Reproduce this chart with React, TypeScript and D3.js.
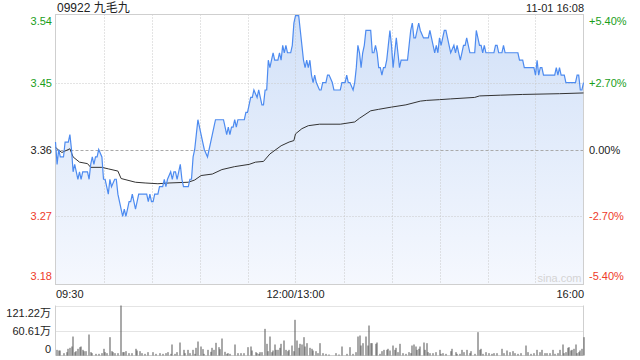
import React from "react";
import * as d3 from "d3";

const TITLE = "09922 九毛九";
const STAMP = "11-01 16:08";
const PREV_CLOSE = 3.36;
const PCT_RANGE = 0.054;
const PRICE_TICKS = [3.54, 3.45, 3.36, 3.27, 3.18];
const PCT_LABELS = ["+5.40%", "+2.70%", "0.00%", "-2.70%", "-5.40%"];
const TIME_LABELS = ["09:30", "12:00/13:00", "16:00"];
const TIME_LABEL_MIN = [0, 150, 330];
const TOTAL_MIN = 330;
const VOL_MAX = 121.22;
const VOL_LABELS = ["121.22万", "60.61万", "0"];
const VOL_TICKS = [121.22, 60.61, 0];

// minute offsets and prices
const priceMin = [0,1,2,3,5,6,8,9,10,11,12,13,14,15,16,17,20,21,22,23,24,25,26,27,29,30,31,32,33,34,35,37,38,39,40,41,42,43,44,45,46,47,48,49,50,51,52,57,58,59,60,61,62,64,65,67,68,69,70,72,73,74,75,76,77,78,79,80,83,84,85,86,87,88,89,90,91,92,93,95,96,97,98,99,100,105,106,107,108,109,110,111,112,113,114,118,119,120,121,122,123,124,126,127,128,129,130,131,132,133,134,135,136,137,139,140,141,142,143,144,145,147,148,149,150,152,153,154,155,156,157,158,159,160,161,162,163,165,166,167,169,170,171,173,174,178,179,181,182,183,184,186,187,188,189,190,191,192,193,194,197,198,199,200,201,202,203,204,205,206,207,208,209,210,211,212,213,214,215,216,220,221,222,223,224,225,226,227,228,230,233,234,235,236,237,238,239,240,241,242,243,244,245,246,247,249,250,251,252,253,254,255,256,257,258,259,262,263,264,265,266,267,268,269,274,275,276,277,279,280,281,289,290,292,293,299,300,301,302,303,304,305,312,313,314,315,316,318,319,325,326,327,328,329,330];
const priceVal = [3.37,3.34,3.36,3.35,3.35,3.37,3.37,3.38,3.36,3.33,3.34,3.33,3.32,3.33,3.32,3.33,3.33,3.32,3.34,3.35,3.34,3.35,3.35,3.36,3.35,3.32,3.32,3.31,3.30,3.32,3.31,3.32,3.32,3.30,3.29,3.28,3.27,3.28,3.27,3.28,3.29,3.29,3.30,3.29,3.28,3.29,3.30,3.30,3.29,3.30,3.29,3.29,3.30,3.30,3.31,3.31,3.32,3.31,3.32,3.33,3.32,3.33,3.33,3.32,3.33,3.34,3.32,3.31,3.31,3.32,3.32,3.35,3.36,3.38,3.40,3.39,3.38,3.37,3.36,3.35,3.36,3.37,3.38,3.39,3.40,3.40,3.39,3.38,3.39,3.38,3.39,3.39,3.40,3.39,3.40,3.40,3.41,3.41,3.42,3.43,3.43,3.44,3.43,3.44,3.43,3.42,3.42,3.44,3.44,3.48,3.47,3.48,3.49,3.48,3.48,3.49,3.48,3.50,3.49,3.50,3.49,3.49,3.50,3.53,3.54,3.54,3.52,3.50,3.48,3.47,3.48,3.47,3.48,3.46,3.45,3.46,3.45,3.44,3.44,3.45,3.45,3.46,3.46,3.45,3.44,3.44,3.45,3.45,3.46,3.45,3.45,3.44,3.45,3.47,3.50,3.49,3.47,3.49,3.50,3.52,3.52,3.49,3.49,3.50,3.49,3.47,3.47,3.46,3.47,3.47,3.48,3.50,3.52,3.50,3.47,3.49,3.51,3.49,3.47,3.48,3.48,3.50,3.52,3.53,3.51,3.51,3.52,3.53,3.52,3.51,3.51,3.52,3.51,3.50,3.49,3.50,3.49,3.51,3.50,3.51,3.52,3.52,3.51,3.50,3.49,3.50,3.49,3.50,3.49,3.48,3.49,3.50,3.50,3.51,3.50,3.49,3.49,3.52,3.51,3.50,3.50,3.49,3.50,3.49,3.49,3.50,3.50,3.49,3.49,3.50,3.49,3.49,3.48,3.48,3.47,3.47,3.46,3.48,3.46,3.47,3.47,3.46,3.46,3.47,3.46,3.47,3.46,3.46,3.45,3.45,3.46,3.46,3.44,3.44,3.45];

const avgMin = [0,2,4,9,11,15,20,22,29,33,39,41,50,56,64,71,83,87,91,98,104,112,121,125,130,134,141,146,149,150,154,158,165,178,187,190,197,202,210,219,228,232,240,247,262,265,278,292,315,330];
const avgVal = [3.363,3.359,3.356,3.361,3.350,3.343,3.341,3.336,3.336,3.334,3.331,3.321,3.316,3.315,3.314,3.315,3.316,3.319,3.325,3.327,3.333,3.337,3.340,3.343,3.344,3.354,3.365,3.370,3.372,3.381,3.388,3.392,3.394,3.394,3.397,3.402,3.412,3.414,3.417,3.420,3.425,3.426,3.427,3.428,3.430,3.432,3.433,3.434,3.435,3.436];

const volMin = [1,2,3,5,7,8,9,10,11,12,13,14,15,16,17,18,19,21,22,23,25,27,29,30,31,32,34,35,36,37,39,41,42,43,44,46,48,50,51,53,54,56,58,61,63,65,67,69,70,72,73,75,76,78,80,81,83,84,86,87,88,89,91,92,93,95,97,98,99,100,102,103,104,106,107,108,109,112,114,116,118,120,122,123,125,126,127,128,129,131,132,133,134,135,136,137,138,139,140,141,143,144,145,146,148,149,150,151,152,153,154,155,156,157,159,160,161,163,164,165,167,169,171,175,177,179,182,184,186,188,189,190,191,192,194,195,196,197,198,200,201,203,204,205,207,208,209,211,212,213,214,215,217,219,221,222,223,224,225,226,227,228,230,231,232,233,234,236,238,240,241,242,244,247,248,250,251,253,254,255,257,259,260,262,264,265,266,267,269,271,273,274,276,279,280,282,284,286,287,289,291,294,295,297,299,301,303,304,306,307,309,311,312,314,315,317,318,319,320,321,322,323,324,325,326,327,328,329,330];
const volVal = [13.7,12.1,12.1,5.7,8.1,16.2,18.6,21.8,46,8.1,10.5,16.2,20.2,21.8,13.7,10.5,10.5,50.9,8.1,5.7,4.0,4.0,5.7,16.2,8.1,5.7,44.4,10.5,8.1,5.7,5.7,121.2,8.1,8.1,10.5,5.7,5.7,16.2,12.1,10.5,5.7,4.0,8.1,8.1,4.0,5.7,4.0,5.7,8.1,4.0,26.7,4.0,8.1,31.5,13.7,5.7,13.7,5.7,13.7,4.0,18.6,33.9,21.8,15.4,4.0,13.7,8.9,18.6,13.7,30.7,20.2,15.4,41.2,8.9,4.0,5.7,4.0,26.7,5.7,5.7,5.7,20.2,21.8,12.1,8.1,5.7,4.0,8.1,8.1,64.6,28.3,10.5,46,8.1,12.1,26.7,13.7,13.7,18.6,28.3,36.4,13.7,10.5,13.7,24.2,10.5,86.5,36.4,18.6,28.3,26.7,44.4,21.8,29.9,18.6,16.2,12.1,10.5,5.7,29.9,5.7,4.0,2.4,5.7,2.4,21.8,4.0,20.2,4.0,8.1,46,48.5,24.2,29.9,46,24.2,72.7,29.9,29.9,28.3,31.5,4.0,10.5,13.7,13.7,16.2,12.1,24.2,13.7,18.6,8.1,28.3,5.7,4.0,8.1,5.7,24.2,26.7,21.8,13.7,16.2,21.8,31.5,13.7,29.9,8.1,5.7,5.7,8.1,13.7,4.0,5.7,4.0,10.5,16.2,8.1,4.0,4.0,13.7,8.1,13.7,5.7,10.5,4.0,56.6,13.7,16.2,4.0,8.1,5.7,4.0,5.7,5.7,16.2,5.7,12.1,8.1,10.5,5.7,4.0,5.7,24.2,8.1,4.0,5.7,13.7,8.1,13.7,5.7,5.7,5.7,13.7,4.0,5.7,13.7,26.7,5.7,8.1,18.6,20.2,12.1,13.7,16.2,26.7,5.7,8.1,12.1,16.2,44.4];

const W = 640;
const H = 360;
const X0 = 55.5;
const X1 = 583.5;
const PT = 14.5;
const PB = 284.5;
const VT = 305.5;
const VB = 355.5;

const GREEN = "#1a9e1a";
const RED = "#ee3b2a";
const DARK = "#222";
const FONT = "'Liberation Sans', Arial, 'Noto Sans CJK SC', sans-serif";

export default function App() {
  const x = d3.scaleLinear().domain([0, TOTAL_MIN]).range([X0, X1]);
  const lo = PREV_CLOSE * (1 - PCT_RANGE);
  const hi = PREV_CLOSE * (1 + PCT_RANGE);
  const y = d3.scaleLinear().domain([lo, hi]).range([PB, PT]);
  const yv = d3.scaleLinear().domain([0, VOL_MAX]).range([VB, VT]);

  const pts = priceMin.map((m, i) => [m, priceVal[i]] as [number, number]);
  const avg = avgMin.map((m, i) => [m, avgVal[i]] as [number, number]);

  const line = d3.line<[number, number]>().x((d) => x(d[0])).y((d) => y(d[1]));
  const area = d3
    .area<[number, number]>()
    .x((d) => x(d[0]))
    .y0(PB)
    .y1((d) => y(d[1]));

  const vGrid = d3.range(1, 11).map((i) => i * 30);
  const colorFor = (i: number) => (i < 2 ? GREEN : i === 2 ? DARK : RED);

  return (
    <svg
      width={W}
      height={H}
      style={{ position: "fixed", left: 0, top: 0, background: "#fff" }}
      fontFamily={FONT}
    >
      <defs>
        <linearGradient id="fillg" x1="0" y1="0" x2="0" y2="1">
          <stop offset="0%" stopColor="#d2e1f8" />
          <stop offset="100%" stopColor="#f5f8fe" />
        </linearGradient>
      </defs>

      <text x={57} y={12} fontSize={12} fill={DARK}>
        {TITLE}
      </text>
      <text x={X1 + 0.5} y={12} fontSize={11} fill={DARK} textAnchor="end">
        {STAMP}
      </text>

      {/* area */}
      <path d={area(pts) || ""} fill="url(#fillg)" />

      {/* grid */}
      {vGrid.map((m) => (
        <line
          key={"vg" + m}
          x1={Math.round(x(m)) + 0.5}
          x2={Math.round(x(m)) + 0.5}
          y1={PT}
          y2={PB}
          stroke="#c8c8c8"
          strokeDasharray="1,2"
        />
      ))}
      {PRICE_TICKS.slice(1, 4).map((p, i) => (
        <line
          key={"hg" + p}
          x1={X0}
          x2={X1}
          y1={Math.round(y(p)) + 0.5}
          y2={Math.round(y(p)) + 0.5}
          stroke={i === 1 ? "#aaa" : "#c8c8c8"}
          strokeDasharray={i === 1 ? "3,2" : "1,2"}
        />
      ))}

      {/* frame */}
      <rect x={X0} y={PT} width={X1 - X0} height={PB - PT} fill="none" stroke="#cfcfcf" />

      <text x={X1 - 2} y={PB - 3} fontSize={11} fill="#d4d4d4" textAnchor="end">
        sina.com
      </text>

      {/* lines */}
      <path d={line(avg) || ""} fill="none" stroke="#333" strokeWidth={1} />
      <path d={line(pts) || ""} fill="none" stroke="#4d8bf0" strokeWidth={1.2} />

      {/* left axis */}
      {PRICE_TICKS.map((p, i) => {
        let yy = y(p) + 4;
        if (i === 0) yy = y(p) + 9;
        if (i === PRICE_TICKS.length - 1) yy = y(p) - 3;
        return (
          <text key={"pl" + p} x={52} y={yy} fontSize={11} fill={colorFor(i)} textAnchor="end">
            {p.toFixed(2)}
          </text>
        );
      })}
      {PCT_LABELS.map((t, i) => {
        const p = PRICE_TICKS[i];
        let yy = y(p) + 4;
        if (i === 0) yy = y(p) + 9;
        if (i === PCT_LABELS.length - 1) yy = y(p) - 3;
        return (
          <text key={"pr" + t} x={589} y={yy} fontSize={11} fill={colorFor(i)}>
            {t}
          </text>
        );
      })}

      {/* time labels */}
      {TIME_LABELS.map((t, i) => (
        <text
          key={t}
          x={i === 0 ? X0 + 0.5 : i === 2 ? X1 + 0.5 : x(TIME_LABEL_MIN[i])}
          y={298}
          fontSize={11}
          fill={DARK}
          textAnchor={i === 0 ? "start" : i === 2 ? "end" : "middle"}
        >
          {t}
        </text>
      ))}

      {/* volume */}
      {VOL_TICKS.slice(0, 2).map((v) => (
        <line
          key={"vv" + v}
          x1={X0}
          x2={X1}
          y1={Math.round(yv(v)) + 0.5}
          y2={Math.round(yv(v)) + 0.5}
          stroke="#c8c8c8"
          strokeDasharray="1,1"
        />
      ))}
      <line x1={X0} x2={X0} y1={VT} y2={VB} stroke="#cfcfcf" />
      <line x1={X1} x2={X1} y1={VT} y2={VB} stroke="#cfcfcf" />
      <line x1={X0} x2={X1} y1={VB} y2={VB} stroke="#cfcfcf" />
      {volMin.map((m, i) => (
        <rect
          key={"vb" + m}
          x={Math.round(x(m)) - 0.5}
          y={yv(volVal[i])}
          width={1}
          height={VB - yv(volVal[i])}
          fill="#555"
        />
      ))}
      {VOL_LABELS.map((t, i) => {
        let yy = yv(VOL_TICKS[i]) + 4;
        if (i === 0) yy = yv(VOL_TICKS[i]) + 11;
        if (i === 2) yy = yv(VOL_TICKS[i]) - 3;
        return (
          <text key={"vl" + t} x={51} y={yy} fontSize={11} fill={DARK} textAnchor="end">
            {t}
          </text>
        );
      })}
    </svg>
  );
}
